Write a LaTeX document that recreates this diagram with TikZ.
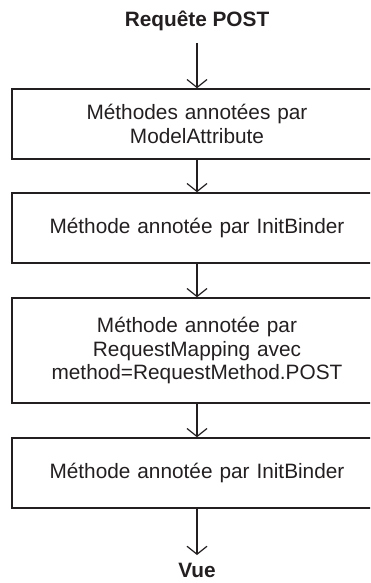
\documentclass[tikz,border=0pt]{standalone}
\usepackage{fontspec}
\setmainfont{Liberation Sans}
\usetikzlibrary{arrows.meta}
\definecolor{ink}{HTML}{231F20}
\begin{document}
\begin{tikzpicture}[x=1pt,y=-1pt,
  stepbox/.style={draw=ink, line width=1.5pt, rectangle, minimum width=370pt,
    text width=340pt, align=center, inner sep=0pt,
    font=\fontsize{20.8}{23.5}\selectfont, text=ink},
  endlabel/.style={font=\fontsize{20.8}{23.5}\selectfont\bfseries, text=ink,
    inner sep=0pt, anchor=base},
  flow/.style={draw=ink, line width=1.2pt, -{Straight Barb[length=8pt,width=20pt]}}]
\useasboundingbox (0,0) rectangle (370,583);
\clip (0,0) rectangle (370,583);
\node[endlabel] (req) at (197,27) {Requête POST};
\coordinate (start) at (197,43);
\node[stepbox, minimum height=70pt] (m1) at (197,124) {Méthodes annotées par\\ModelAttribute};
\node[stepbox, minimum height=70pt] (m2) at (197,228) {Méthode annotée par InitBinder};
\node[stepbox, minimum height=105pt] (m3) at (197,350.5) {Méthode annotée par\\RequestMapping avec\\method=RequestMethod.POST};
\node[stepbox, minimum height=70pt] (m4) at (197,473) {Méthode annotée par InitBinder};
\coordinate (finish) at (197,555);
\node[endlabel] (vue) at (197,577) {Vue};
\draw[flow] (start) -- (m1.north);
\draw[flow] (m1.south) -- (m2.north);
\draw[flow] (m2.south) -- (m3.north);
\draw[flow] (m3.south) -- (m4.north);
\draw[flow] (m4.south) -- (finish);
\end{tikzpicture}
\end{document}
